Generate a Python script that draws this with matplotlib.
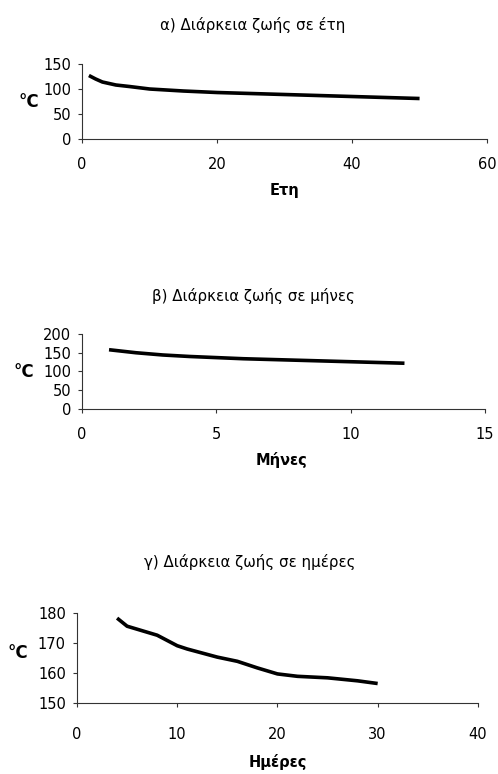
import matplotlib
matplotlib.use("Agg")
import matplotlib.pyplot as plt

plt.rcParams['font.family'] = ['DejaVu Sans']

# Panel a) years
years = [1, 2, 3, 4, 5, 7, 10, 15, 20, 25, 30, 35, 40, 45, 50]
temp_years = [127, 120, 114, 111, 108, 105, 100, 96, 93, 91, 89, 87, 85, 83, 81]

# Panel b) months
months = [1, 2, 3, 4, 5, 6, 7, 8, 9, 10, 11, 12]
temp_months = [158, 150, 144, 140, 137, 134, 132, 130, 128, 126, 124, 122]

# Panel c) days
days = [4, 5, 6, 8, 10, 11, 12, 14, 16, 18, 20, 22, 25, 28, 30]
temp_days = [178.3, 175.6, 174.6, 172.6, 169.1, 168.0, 167.1, 165.3, 163.9, 161.7, 159.7, 158.9, 158.4, 157.4, 156.5]

titles = ["α) Διάρκεια ζωής σε έτη", "β) Διάρκεια ζωής σε μήνες", "γ) Διάρκεια ζωής σε ημέρες"]
xlabels = ["Ετη", "Μήνες", "Ημέρες"]

fig = plt.figure(figsize=(4.98, 7.74), dpi=100)

panels = [
    dict(rect=[0.165, 0.8204, 0.813, 0.0969], x=years, y=temp_years,
         xlim=(0, 60), xt=[0, 20, 40, 60], ylim=(0, 150), yt=[0, 50, 100, 150],
         title_xy=(0.508, 0.9677), xl_xy=(0.572, 0.7545), yl_xy=(0.058, 0.868), xpad=10),
    dict(rect=[0.165, 0.4716, 0.809, 0.0969], x=months, y=temp_months,
         xlim=(0, 15), xt=[0, 5, 10, 15], ylim=(0, 200), yt=[0, 50, 100, 150, 200],
         title_xy=(0.508, 0.6176), xl_xy=(0.566, 0.4057), yl_xy=(0.048, 0.519), xpad=10),
    dict(rect=[0.1546, 0.0917, 0.805, 0.1163], x=days, y=temp_days,
         xlim=(0, 40), xt=[0, 10, 20, 30, 40], ylim=(150, 180), yt=[150, 160, 170, 180],
         title_xy=(0.502, 0.2739), xl_xy=(0.558, 0.0155), yl_xy=(0.036, 0.156), xpad=14),
]

for i, p in enumerate(panels):
    ax = fig.add_axes(p['rect'])
    ax.plot(p['x'], p['y'], color='black', linewidth=2.6, solid_capstyle='butt')
    ax.set_xlim(*p['xlim'])
    ax.set_ylim(*p['ylim'])
    ax.set_xticks(p['xt'])
    ax.set_yticks(p['yt'])
    for s in ['top', 'right']:
        ax.spines[s].set_visible(False)
    for s in ['left', 'bottom']:
        ax.spines[s].set_linewidth(0.8)
        ax.spines[s].set_color('#333333')
    ax.tick_params(axis='both', direction='out', length=3, width=0.8,
                   labelsize=10.5, colors='#333333', labelcolor='black')
    ax.tick_params(axis='y', pad=5)
    ax.tick_params(axis='x', pad=p['xpad'])
    fig.text(*p['title_xy'], titles[i], ha='center', va='center', fontsize=10.8)
    fig.text(*p['xl_xy'], xlabels[i], ha='center', va='center', fontsize=10.5, fontweight='bold')
    fig.text(*p['yl_xy'], '°C', ha='center', va='center', fontsize=12, fontweight='bold')

fig.savefig('out.png', dpi=100)
